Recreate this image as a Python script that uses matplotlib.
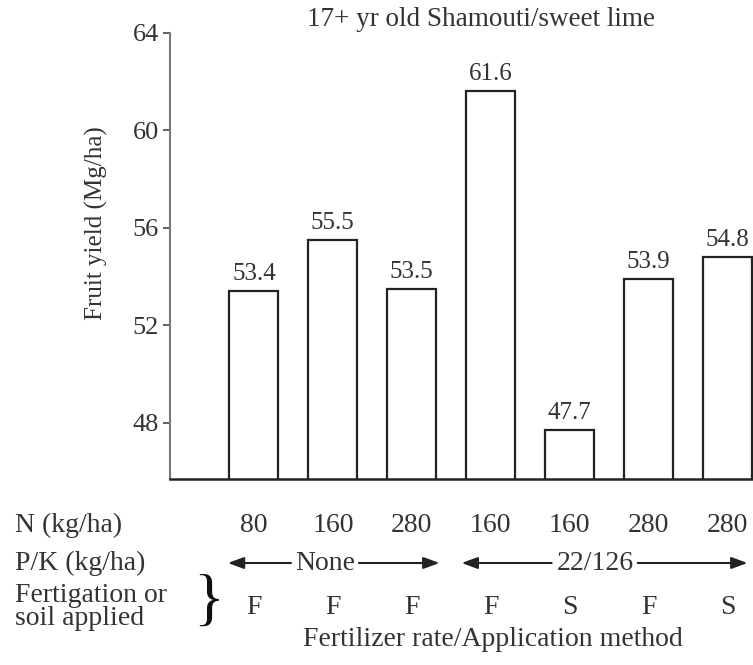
import numpy as np
import matplotlib.pyplot as plt
import matplotlib.transforms as mtransforms

plt.rcParams['font.family'] = ['Liberation Serif', 'DejaVu Serif']

yields = [53.4, 55.5, 53.5, 61.6, 47.7, 53.9, 54.8]
n_rates = ['80', '160', '280', '160', '160', '280', '280']
methods = ['F', 'F', 'F', 'F', 'S', 'F', 'S']
pk_groups = ['None', '22/126']
yticks = [48, 52, 56, 60, 64]

fs = 20
fs_small = 18
txtc = '#333333'

fig = plt.figure(figsize=(7.53, 6.65), dpi=100)
ax = fig.add_axes([0.226, 0.2797, 0.774, 0.6707])

x = np.arange(len(yields))
ax.bar(x, yields, width=0.62, bottom=0, color='white', edgecolor='#222222', linewidth=1.6)
for xi, v in zip(x, yields):
    ax.text(xi, v + 0.25, '%.1f' % v, ha='center', va='bottom', fontsize=fs_small, color=txtc)

ax.set_ylim(45.7, 64)
ax.set_xlim(-1.06, 6.32)
ax.set_yticks(yticks)
ax.set_yticklabels([str(t) for t in yticks], fontsize=19, color=txtc)
ax.tick_params(axis='y', direction='out', length=5, width=1.2, colors='#444444', labelcolor=txtc, pad=3)
ax.set_xticks([])
for s in ['top', 'right']:
    ax.spines[s].set_visible(False)
ax.spines['left'].set_color('#777777')
ax.spines['left'].set_linewidth(1.5)
ax.spines['bottom'].set_color('#222222')
ax.spines['bottom'].set_linewidth(1.8)

ax.set_ylabel('Fruit yield (Mg/ha)', fontsize=fs_small, color=txtc)
ax.yaxis.set_label_coords(-0.106, 0.574)
fig.text(0.639, 0.970, '17+ yr old Shamouti/sweet lime', ha='center', va='center', fontsize=19.5, color=txtc)

def fy(py):
    return 1 - py / 665.0

tr = mtransforms.blended_transform_factory(ax.transData, fig.transFigure)

fig.text(0.02, fy(525), 'N (kg/ha)', ha='left', va='center', fontsize=fs, color=txtc)
fig.text(0.02, fy(563), 'P/K (kg/ha)', ha='left', va='center', fontsize=fs, color=txtc)
fig.text(0.02, fy(607), 'Fertigation or\nsoil applied', ha='left', va='center', fontsize=fs,
         color=txtc, linespacing=0.85)
fig.text(0.277, fy(604), '}', ha='center', va='center', fontsize=46, color='#111111')

for xi, n, m in zip(x, n_rates, methods):
    ax.text(xi, fy(525), n, transform=tr, ha='center', va='center', fontsize=fs, color=txtc)
    ax.text(xi, fy(607), m, transform=tr, ha='center', va='center', fontsize=fs, color=txtc)

# P/K arrows
yy = fy(563)
groups = [(-0.33, 0.47, 0.9, 1.33, 2.35, pk_groups[0]),
          (2.63, 3.77, 4.32, 4.86, 6.25, pk_groups[1])]
for x0, xa, xm, xb, x1, lab in groups:
    ax.text(xm, yy, lab, transform=tr, ha='center', va='center', fontsize=fs, color=txtc)
    for xs, xe in [(xa, x0), (xb, x1)]:
        ax.annotate('', xy=(xe, yy), xytext=(xs, yy), xycoords=tr, textcoords=tr,
                    annotation_clip=False,
                    arrowprops=dict(arrowstyle='-|>,head_length=0.6,head_width=0.22',
                                    color='#222222', lw=1.5, mutation_scale=16,
                                    shrinkA=0, shrinkB=0))

fig.text(0.655, fy(640), 'Fertilizer rate/Application method', ha='center', va='center', fontsize=fs, color=txtc)

plt.savefig('out.png', dpi=100)
